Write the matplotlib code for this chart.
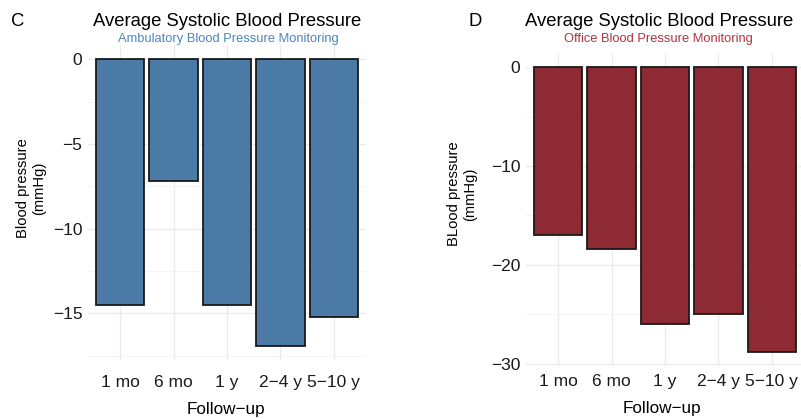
import numpy as np
import matplotlib.pyplot as plt
from matplotlib.ticker import MultipleLocator

plt.rcParams['font.family'] = ['Liberation Sans', 'DejaVu Sans']

followup = ['1 mo', '6 mo', '1 y', '2−4 y', '5−10 y']
ambulatory = [-14.5, -7.2, -14.5, -16.9, -15.2]
office = [-17.0, -18.4, -26.0, -25.0, -28.8]

blue = '#4a7aa5'
red = '#8e2a33'
W, H = 801, 419

fig = plt.figure(figsize=(W / 100, H / 100), dpi=100)


def panel(box, values, color, major, minor, pad_x):
    left, top, right, bottom = box
    ax = fig.add_axes([left / W, 1 - bottom / H, (right - left) / W, (bottom - top) / H])
    x = np.arange(len(values))
    ax.bar(x, values, width=0.9, color=color, edgecolor='#1a1a1a', linewidth=1.3, zorder=3)
    lo = min(values)
    ax.set_ylim(lo * 1.05, -lo * 0.05)
    ax.set_xlim(-0.6, len(values) - 0.4)
    ax.yaxis.set_major_locator(MultipleLocator(major))
    ax.yaxis.set_minor_locator(MultipleLocator(minor))
    ax.set_xticks(x)
    ax.set_xticklabels(followup)
    ax.yaxis.set_major_formatter(plt.FuncFormatter(lambda v, p: f'{v:g}'.replace('-', '−')))
    ax.grid(True, which='major', color='#ebebeb', linewidth=1.0, zorder=0)
    ax.grid(True, which='minor', axis='y', color='#f2f2f2', linewidth=0.6, zorder=0)
    for s in ax.spines.values():
        s.set_visible(False)
    ax.tick_params(which='both', length=0)
    ax.tick_params(axis='y', labelsize=12.5, pad=4, labelcolor='#1a1a1a')
    ax.tick_params(axis='x', labelsize=12.5, pad=pad_x, labelcolor='#1a1a1a')
    ax.set_axisbelow(True)
    return ax


ax1 = panel((88, 45, 366, 360), ambulatory, blue, 5, 2.5, 10.5)
ax2 = panel((526, 53, 804, 366), office, red, 10, 5, 6)

# titles and labels
fig.text(227 / W, 1 - 21 / H, 'Average Systolic Blood Pressure', ha='center', va='center', fontsize=13.3)
fig.text(228 / W, 1 - 39 / H, 'Ambulatory Blood Pressure Monitoring', ha='center', va='center',
         fontsize=9.3, color='#4a86c0')
fig.text(659 / W, 1 - 21 / H, 'Average Systolic Blood Pressure', ha='center', va='center', fontsize=13.3)
fig.text(658 / W, 1 - 39 / H, 'Office Blood Pressure Monitoring', ha='center', va='center',
         fontsize=9.3, color='#b3333d')
fig.text(18 / W, 1 - 21 / H, 'C', ha='center', va='center', fontsize=13.3)
fig.text(475 / W, 1 - 21 / H, 'D', ha='center', va='center', fontsize=13.3)

fig.text(31 / W, 1 - 188 / H, 'Blood pressure\n(mmHg)', rotation=90, ha='center', va='center',
         fontsize=10.6, linespacing=1.2, multialignment='center')
fig.text(462 / W, 1 - 194 / H, 'BLood pressure\n(mmHg)', rotation=90, ha='center', va='center',
         fontsize=10.6, linespacing=1.2, multialignment='center')

fig.text(226 / W, 1 - 409 / H, 'Follow−up', ha='center', va='center', fontsize=12.3)
fig.text(662 / W, 1 - 408 / H, 'Follow−up', ha='center', va='center', fontsize=12.3)

fig.savefig('out.png', dpi=100, facecolor='white')
